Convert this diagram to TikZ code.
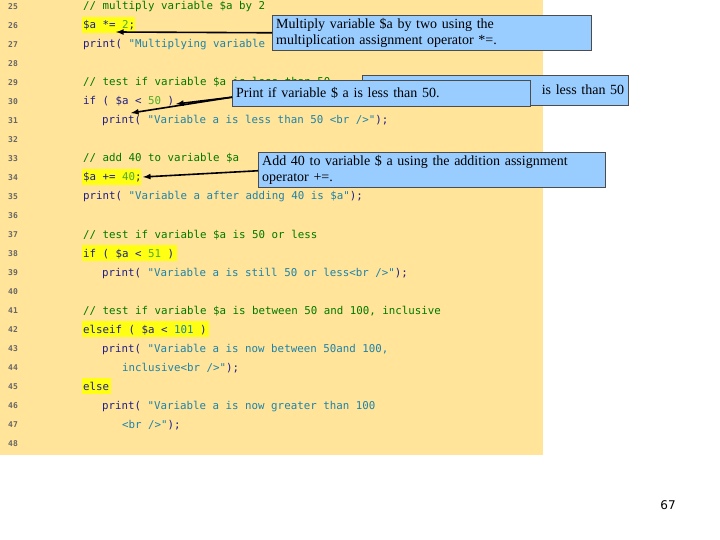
\documentclass[tikz,border=0pt]{standalone}
\usepackage{fontspec}
\setmainfont{Liberation Serif}
\newfontfamily\codefont{DejaVu Sans Mono}
\newfontfamily\numfont{DejaVu Sans}
\begin{document}
\begin{tikzpicture}[x=1pt,y=-1pt,
  ln/.style={anchor=base west,font=\codefont\fontsize{8}{9}\selectfont\bfseries,text=black!60,inner sep=0},
  cd/.style={anchor=base west,font=\codefont\fontsize{10.8}{12}\selectfont,inner sep=0},
  call/.style={draw=black!70,fill={rgb,255:red,153;green,204;blue,255},font=\fontsize{14}{16}\selectfont,align=left,anchor=north west,inner xsep=4pt,inner ysep=3pt,text width=#1},
  arr/.style={-latex,line width=1.6pt}]
\definecolor{bg}{RGB}{255,228,153}
\definecolor{cm}{RGB}{0,120,0}
\definecolor{kw}{RGB}{30,30,140}
\definecolor{st}{RGB}{30,130,170}
\definecolor{nm}{RGB}{80,170,40}
\definecolor{hl}{RGB}{255,255,20}
\useasboundingbox (0,0) rectangle (720,540);
\fill[bg] (0,0) rectangle (543,455);
% highlights
\fill[hl] (82,17) rectangle (135,33);
\fill[hl] (82,169) rectangle (141,185);
\fill[hl] (82,245) rectangle (177,261);
\fill[hl] (82,321) rectangle (209,337);
\fill[hl] (82,378) rectangle (111,394);
\foreach \n [count=\i from 0] in {25,...,48}
  \node[ln] (l\n) at (8,{10+\i*18.96}) {\n};
\node[cd,text=cm] (c25) at (83,10) {// multiply variable \$a by 2};
\node[cd,text=kw] (c26) at (83,29) {\$a *= \textcolor{nm}{2};};
\node[cd,text=kw] (c27) at (83,48) {print( \textcolor{st}{"Multiplying variable}};
\node[cd,text=cm] (c29) at (83,86) {// test if variable \$a is less than 50};
\node[cd,text=kw] (c30) at (83,105) {if ( \$a < \textcolor{nm}{50} )};
\node[cd,text=kw] (c31) at (102,124) {print( \textcolor{st}{"Variable a is less than 50 <br />"});};
\node[cd,text=cm] (c33) at (83,162) {// add 40 to variable \$a};
\node[cd,text=kw] (c34) at (83,181) {\$a += \textcolor{nm}{40};};
\node[cd,text=kw] (c35) at (83,200) {print( \textcolor{st}{"Variable a after adding 40 is \$a"});};
\node[cd,text=cm] (c37) at (83,238) {// test if variable \$a is 50 or less};
\node[cd,text=kw] (c38) at (83,257) {if ( \$a < \textcolor{nm}{51} )};
\node[cd,text=kw] (c39) at (102,276) {print( \textcolor{st}{"Variable a is still 50 or less<br />"});};
\node[cd,text=cm] (c41) at (83,314) {// test if variable \$a is between 50 and 100, inclusive};
\node[cd,text=kw] (c42) at (83,333) {elseif ( \$a < \textcolor{st}{101} )};
\node[cd,text=kw] (c43) at (102,352) {print( \textcolor{st}{"Variable a is now between 50and 100,}};
\node[cd,text=st] (c44) at (122,371) {inclusive<br />"\textcolor{kw}{ );}};
\node[cd,text=kw] (c45) at (83,390) {else};
\node[cd,text=kw] (c46) at (102,409) {print( \textcolor{st}{"Variable a is now greater than 100}};
\node[cd,text=st] (c47) at (122,428) {<br />"\textcolor{kw}{ );}};
% callouts
\node[call=311pt] (b1) at (272,15) {Multiply variable \$a by two using the\\multiplication assignment operator *=.};
\node[call=258pt,align=right,minimum height=30pt] (b2) at (362,75) {is less than 50};
\node[call=290pt,minimum height=26pt,anchor=north west] (b3) at (232,80) {Print if variable \$ a is less than 50.};
\node[call=339pt] (b4) at (258,152) {Add 40 to variable \$ a using the addition assignment\\operator +=.};
\coordinate (t1) at (116,32);
\coordinate (t2) at (176,104);
\coordinate (t3) at (131,113);
\coordinate (t4) at (143,177);
\draw[arr] (b1.west) ++(0,0) -- (t1);
\draw[arr] (b3.west) ++(0,4) -- (t2);
\draw[arr] (b3.west) ++(0,4) -- (t3);
\draw[arr] (b4.west) ++(0,1) -- (t4);
\node[font=\numfont\fontsize{12}{14}\selectfont,anchor=base] (pg) at (668,509) {67};
\end{tikzpicture}
\end{document}
